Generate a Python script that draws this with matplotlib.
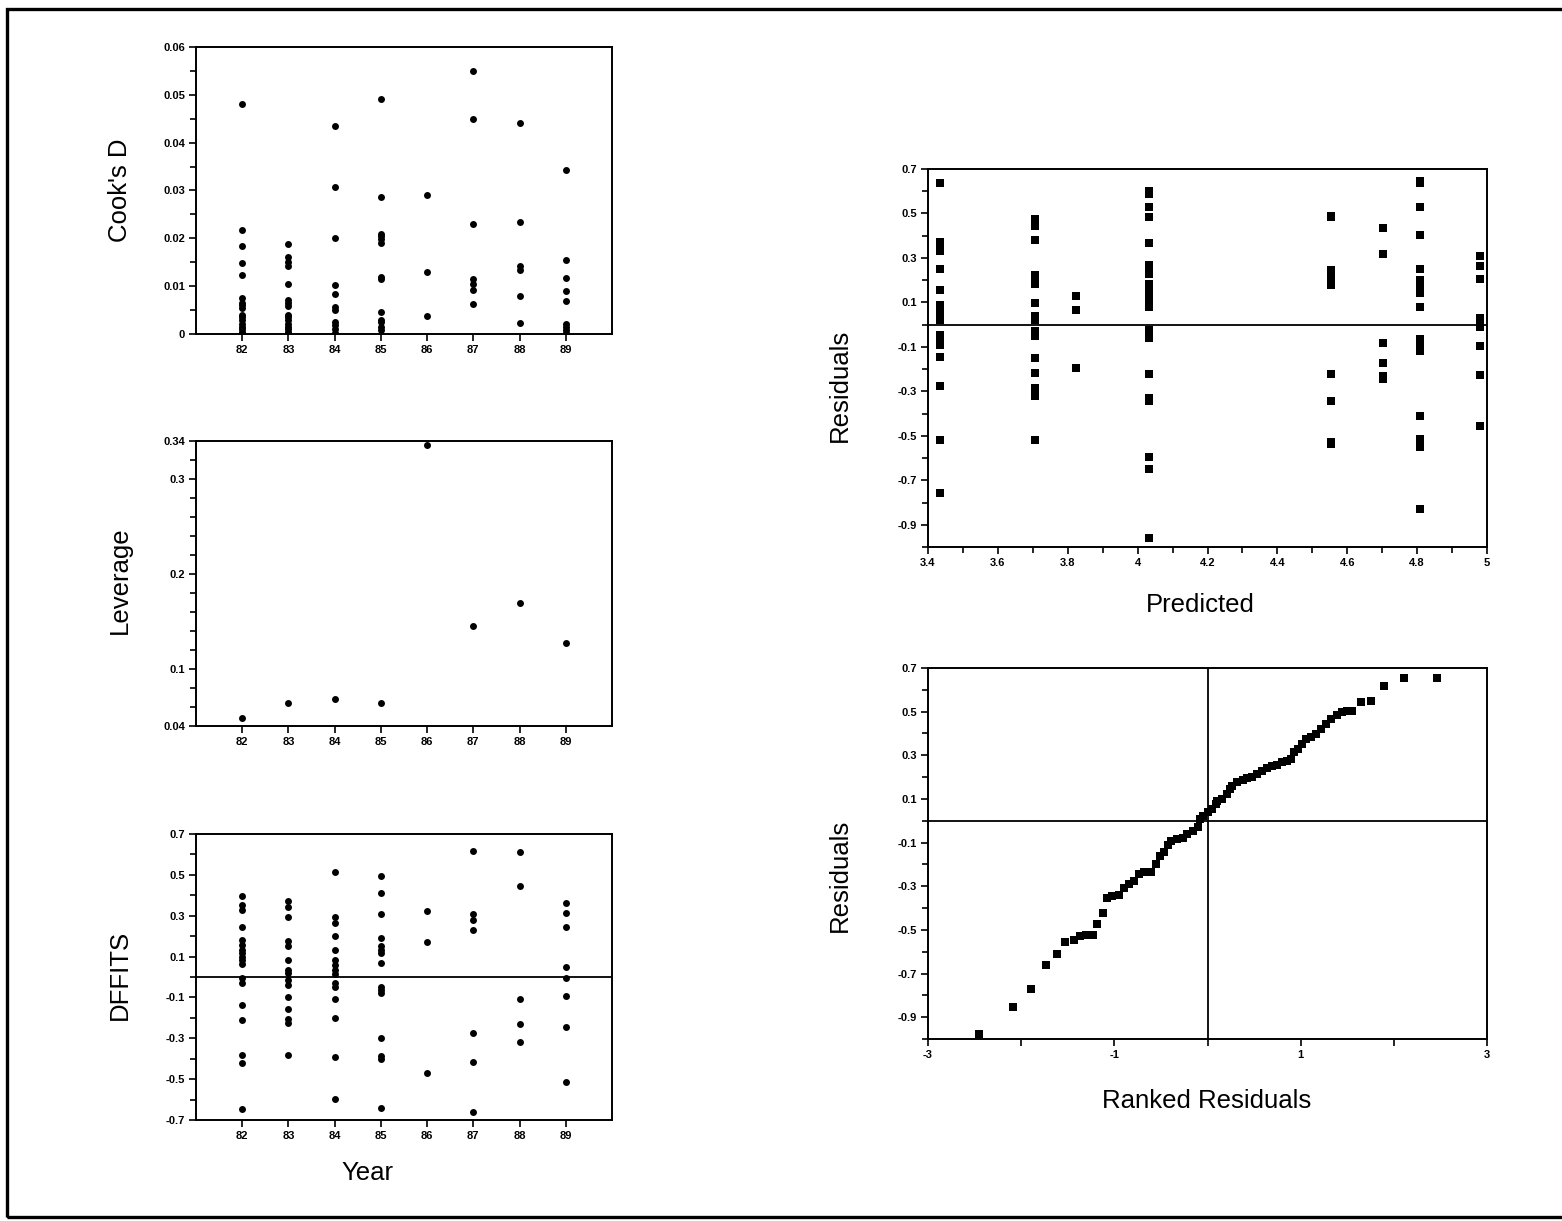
import matplotlib
matplotlib.use('Agg')
import matplotlib.pyplot as plt
from matplotlib.patches import Rectangle
from matplotlib.ticker import FixedLocator, MultipleLocator

plt.rcParams['font.family'] = ['Liberation Sans', 'DejaVu Sans']

# Cook's D por año
years = [82, 83, 84, 85, 86, 87, 88, 89]
cook_82 = [0.048, 0.0218, 0.0185, 0.0148, 0.0123, 0.0075, 0.0065, 0.006, 0.0055,
           0.004, 0.0035, 0.003, 0.002, 0.0015, 0.001, 0.0005, 0.0]
cook_83 = [0.0189, 0.016, 0.015, 0.0142, 0.0104, 0.0072, 0.0065, 0.0058, 0.004,
           0.0035, 0.003, 0.002, 0.0015, 0.001, 0.0005, 0.0]
cook_84 = [0.0435, 0.0308, 0.020, 0.0103, 0.0084, 0.0057, 0.005, 0.0025, 0.0018, 0.001, 0.0003]
cook_85 = [0.0492, 0.0287, 0.021, 0.0205, 0.0198, 0.019, 0.012, 0.0115, 0.0047,
           0.003, 0.0025, 0.0015, 0.0008]
cook_86 = [0.029, 0.0129, 0.0038]
cook_87 = [0.0549, 0.0449, 0.023, 0.0114, 0.0105, 0.0092, 0.0063]
cook_88 = [0.0442, 0.0234, 0.0143, 0.0134, 0.008, 0.0024]
cook_89 = [0.0343, 0.0154, 0.0117, 0.0089, 0.007, 0.002, 0.0015, 0.0008, 0.0002]

# Leverage (un valor por año)
leverage = [0.0488, 0.0646, 0.0688, 0.0646, 0.336, 0.1457, 0.1696, 0.1275]

# DFFITS por año
dff_82 = [0.398, 0.354, 0.33, 0.243, 0.179, 0.158, 0.133, 0.117, 0.1, 0.085, 0.065,
          -0.006, -0.03, -0.136, -0.21, -0.381, -0.419, -0.644]
dff_83 = [0.37, 0.345, 0.293, 0.174, 0.15, 0.084, 0.035, 0.02, -0.014, -0.038, -0.1,
          -0.158, -0.207, -0.226, -0.383]
dff_84 = [0.514, 0.296, 0.264, 0.202, 0.13, 0.084, 0.06, 0.035, 0.016, -0.027, -0.047,
          -0.107, -0.202, -0.394, -0.596]
dff_85 = [0.496, 0.41, 0.31, 0.19, 0.153, 0.133, 0.117, 0.068, -0.047, -0.063, -0.079,
          -0.3, -0.386, -0.403, -0.64]
dff_86 = [0.324, 0.172, -0.468]
dff_87 = [0.617, 0.308, 0.28, 0.231, -0.272, -0.416, -0.661]
dff_88 = [0.612, 0.445, -0.109, -0.232, -0.316]
dff_89 = [0.36, 0.311, 0.243, 0.048, -0.006, -0.094, -0.247, -0.515]

# Residuales vs predichos
pred_levels = [3.433, 3.706, 3.825, 4.032, 4.554, 4.702, 4.809, 4.98]
res_1 = [0.638, 0.371, 0.348, 0.329, 0.25, 0.155, 0.088, 0.066, 0.044, 0.021, -0.045,
         -0.06, -0.075, -0.09, -0.146, -0.276, -0.518, -0.759]
res_2 = [0.475, 0.46, 0.445, 0.381, 0.222, 0.207, 0.185, 0.096, 0.037, 0.022, -0.03,
         -0.053, -0.149, -0.219, -0.283, -0.305, -0.32, -0.518]
res_3 = [0.129, 0.066, -0.194]
res_4 = [0.601, 0.586, 0.53, 0.482, 0.366, 0.27, 0.252, 0.23, 0.181, 0.163, 0.148, 0.111,
         0.096, 0.078, -0.023, -0.038, -0.06, -0.224, -0.33, -0.342, -0.595, -0.647, -0.959]
res_5 = [0.49, 0.482, 0.244, 0.222, 0.2, 0.177, -0.224, -0.342, -0.528, -0.536]
res_6 = [0.435, 0.319, -0.084, -0.174, -0.231, -0.245]
res_7 = [0.645, 0.638, 0.527, 0.404, 0.249, 0.2, 0.177, 0.162, 0.143, 0.081, -0.063,
         -0.082, -0.105, -0.12, -0.409, -0.513, -0.532, -0.55, -0.83]
res_8 = [0.31, 0.264, 0.207, 0.032, 0.011, -0.012, -0.094, -0.227, -0.457]

# Residuales ordenados (grafico de probabilidad normal)
qq_x = [-2.45, -2.09, -1.89, -1.735, -1.62, -1.53, -1.438, -1.367, -1.306, -1.234, -1.188,
        -1.123, -1.084, -1.02, -0.948, -0.895, -0.841, -0.788, -0.734, -0.68, -0.608, -0.555,
        -0.509, -0.472, -0.429, -0.394, -0.329, -0.268, -0.215, -0.161, -0.107, -0.079,
        -0.043, 0.0, 0.043, 0.089, 0.1, 0.161, 0.207, 0.243, 0.268, 0.322, 0.376, 0.429,
        0.483, 0.536, 0.59, 0.644, 0.697, 0.751, 0.805, 0.858, 0.894, 0.929, 0.972, 1.019,
        1.055, 1.108, 1.162, 1.216, 1.269, 1.323, 1.387, 1.449, 1.502, 1.556, 1.645, 1.752,
        1.895, 2.11, 2.468]
qq_y = [-0.975, -0.853, -0.77, -0.663, -0.611, -0.556, -0.546, -0.529, -0.525, -0.525,
        -0.471, -0.422, -0.352, -0.344, -0.34, -0.306, -0.291, -0.275, -0.245, -0.237,
        -0.233, -0.199, -0.161, -0.145, -0.11, -0.095, -0.084, -0.077, -0.061, -0.046,
        -0.028, 0.007, 0.023, 0.038, 0.053, 0.076, 0.089, 0.099, 0.122, 0.145, 0.16, 0.176,
        0.186, 0.195, 0.202, 0.214, 0.229, 0.244, 0.252, 0.257, 0.267, 0.275, 0.283, 0.313,
        0.328, 0.351, 0.374, 0.382, 0.397, 0.42, 0.443, 0.466, 0.486, 0.497, 0.501, 0.505,
        0.543, 0.547, 0.619, 0.654, 0.654]

cook = [cook_82, cook_83, cook_84, cook_85, cook_86, cook_87, cook_88, cook_89]
dffits = [dff_82, dff_83, dff_84, dff_85, dff_86, dff_87, dff_88, dff_89]
resid = [res_1, res_2, res_3, res_4, res_5, res_6, res_7, res_8]

res_ticks = [0.7, 0.5, 0.3, 0.1, -0.1, -0.3, -0.5, -0.7, -0.9]
res_labels = ['0.7', '0.5', '0.3', '0.1', '-0.1', '-0.3', '-0.5', '-0.7', '-0.9']

W, H = 1562, 1221
fig = plt.figure(figsize=(W / 100, H / 100), dpi=100)


def box(l, t, r, b):
    return [l / W, 1 - b / H, (r - l) / W, (b - t) / H]


def estilo(ax):
    for s in ax.spines.values():
        s.set_linewidth(1.4)
    ax.tick_params(which='both', direction='out', top=False, right=False,
                   width=1.2, labelsize=8, pad=3)
    ax.tick_params(which='major', length=5)
    ax.tick_params(which='minor', length=4)
    for t in ax.get_xticklabels() + ax.get_yticklabels():
        t.set_fontweight('bold')


# Cook's D
ax1 = fig.add_axes(box(196, 47, 612, 334))
for yr, vals in zip(years, cook):
    ax1.plot([yr] * len(vals), vals, 'o', color='black', ms=5, mew=0)
ax1.set_xlim(81, 90)
ax1.set_ylim(0, 0.06)
ax1.xaxis.set_major_locator(FixedLocator(years))
ax1.set_xticklabels([str(y) for y in years])
ax1.yaxis.set_major_locator(FixedLocator([0, 0.01, 0.02, 0.03, 0.04, 0.05, 0.06]))
ax1.set_yticklabels(['0', '0.01', '0.02', '0.03', '0.04', '0.05', '0.06'])
ax1.yaxis.set_minor_locator(MultipleLocator(0.005))
estilo(ax1)

# Leverage
ax2 = fig.add_axes(box(196, 441, 612, 726))
ax2.plot(years, leverage, 'o', color='black', ms=5, mew=0)
ax2.set_xlim(81, 90)
ax2.set_ylim(0.04, 0.34)
ax2.xaxis.set_major_locator(FixedLocator(years))
ax2.set_xticklabels([str(y) for y in years])
ax2.yaxis.set_major_locator(FixedLocator([0.04, 0.1, 0.2, 0.3, 0.34]))
ax2.set_yticklabels(['0.04', '0.1', '0.2', '0.3', '0.34'])
ax2.yaxis.set_minor_locator(FixedLocator([0.06, 0.08, 0.12, 0.14, 0.16, 0.18, 0.22,
                                          0.24, 0.26, 0.28, 0.32]))
estilo(ax2)

# DFFITS
ax3 = fig.add_axes(box(196, 834, 612, 1120))
for yr, vals in zip(years, dffits):
    ax3.plot([yr] * len(vals), vals, 'o', color='black', ms=5, mew=0)
ax3.axhline(0, color='black', lw=1.3)
ax3.set_xlim(81, 90)
ax3.set_ylim(-0.7, 0.7)
ax3.xaxis.set_major_locator(FixedLocator(years))
ax3.set_xticklabels([str(y) for y in years])
dff_ticks = [0.7, 0.5, 0.3, 0.1, -0.1, -0.3, -0.5, -0.7]
ax3.yaxis.set_major_locator(FixedLocator(dff_ticks))
ax3.set_yticklabels(['0.7', '0.5', '0.3', '0.1', '-0.1', '-0.3', '-0.5', '-0.7'])
ax3.yaxis.set_minor_locator(FixedLocator([0.6, 0.4, 0.2, 0.0, -0.2, -0.4, -0.6]))
estilo(ax3)

# Residuales vs Predichos
ax4 = fig.add_axes(box(928, 169, 1487, 547))
for p, vals in zip(pred_levels, resid):
    ax4.plot([p] * len(vals), vals, 's', color='black', ms=6.3, mew=0)
ax4.axhline(0, color='black', lw=1.3)
ax4.set_xlim(3.4, 5.0)
ax4.set_ylim(-1.0, 0.7)
ax4.xaxis.set_major_locator(FixedLocator([3.4, 3.6, 3.8, 4.0, 4.2, 4.4, 4.6, 4.8, 5.0]))
ax4.set_xticklabels(['3.4', '3.6', '3.8', '4', '4.2', '4.4', '4.6', '4.8', '5'])
ax4.xaxis.set_minor_locator(FixedLocator([3.5, 3.7, 3.9, 4.1, 4.3, 4.5, 4.7, 4.9]))
ax4.yaxis.set_major_locator(FixedLocator(res_ticks))
ax4.set_yticklabels(res_labels)
ax4.yaxis.set_minor_locator(FixedLocator([0.6, 0.4, 0.2, 0.0, -0.2, -0.4, -0.6, -0.8, -1.0]))
estilo(ax4)

# Residuales ordenados
ax5 = fig.add_axes(box(928, 668, 1487, 1039))
ax5.plot(qq_x, qq_y, 's', color='black', ms=6.3, mew=0)
ax5.axhline(0, color='black', lw=1.3)
ax5.axvline(0, color='black', lw=1.3)
ax5.set_xlim(-3, 3)
ax5.set_ylim(-1.0, 0.7)
ax5.xaxis.set_major_locator(FixedLocator([-3, -1, 1, 3]))
ax5.set_xticklabels(['-3', '-1', '1', '3'])
ax5.xaxis.set_minor_locator(FixedLocator([-2, 0, 2]))
ax5.yaxis.set_major_locator(FixedLocator(res_ticks))
ax5.set_yticklabels(res_labels)
ax5.yaxis.set_minor_locator(FixedLocator([0.6, 0.4, 0.2, 0.0, -0.2, -0.4, -0.6, -0.8, -1.0]))
estilo(ax5)
ax5.tick_params(axis='x', which='minor', length=5)

# Etiquetas de ejes
fs = 18.5
fig.text(120 / W, 1 - 190 / H, "Cook's D", rotation=90, ha='center', va='center', fontsize=fs)
fig.text(120 / W, 1 - 580 / H, "Leverage", rotation=90, ha='center', va='center', fontsize=fs)
fig.text(120 / W, 1 - 975 / H, "DFFITS", rotation=90, ha='center', va='center', fontsize=fs)
fig.text(367 / W, 1 - 1173 / H, "Year", ha='center', va='center', fontsize=fs)
fig.text(840 / W, 1 - 385 / H, "Residuals", rotation=90, ha='center', va='center', fontsize=fs)
fig.text(1200 / W, 1 - 605 / H, "Predicted", ha='center', va='center', fontsize=fs)
fig.text(840 / W, 1 - 875 / H, "Residuals", rotation=90, ha='center', va='center', fontsize=fs)
fig.text(1207 / W, 1 - 1101 / H, "Ranked Residuals", ha='center', va='center', fontsize=fs)

# Marco exterior
fig.patches.append(Rectangle((7 / W, 1 - 1217 / H), (1600 - 7) / W, (1217 - 9) / H,
                             transform=fig.transFigure, fill=False, lw=2.4,
                             edgecolor='black', clip_on=False))

fig.savefig('out.png', dpi=100)
